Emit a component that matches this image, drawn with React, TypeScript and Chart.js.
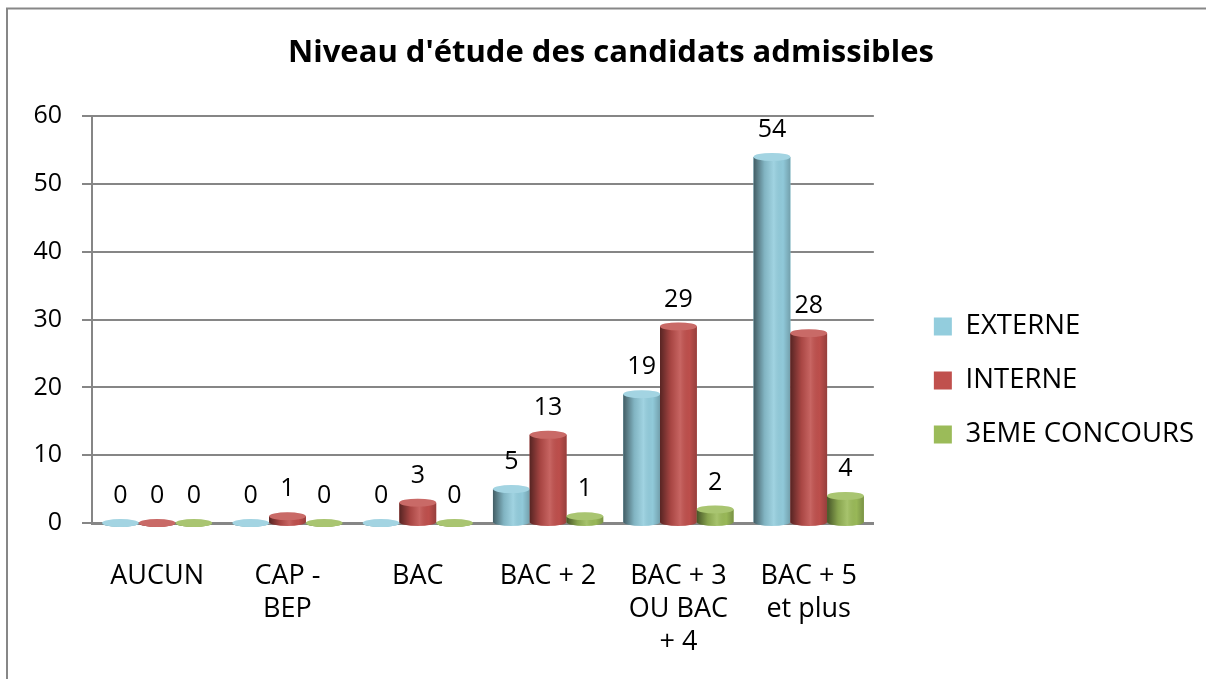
import { useEffect, useRef } from 'react';
import { Chart, registerables } from 'chart.js';

Chart.register(...registerables);

const TITLE = "Niveau d'étude des candidats admissibles";
const CATEGORIES: string[][] = [
  ['AUCUN'],
  ['CAP -', 'BEP'],
  ['BAC'],
  ['BAC + 2'],
  ['BAC + 3', 'OU BAC', '+ 4'],
  ['BAC + 5', 'et plus'],
];
const SERIES_NAMES = ['EXTERNE', 'INTERNE', '3EME CONCOURS'];
const EXTERNE = [0, 0, 0, 5, 19, 54];
const INTERNE = [0, 1, 3, 13, 29, 28];
const TROISIEME = [0, 0, 0, 1, 2, 4];
const Y_MIN = 0;
const Y_MAX = 60;
const Y_STEP = 10;

const COLORS = ['#93CDDD', '#C0504D', '#9BBB59'];
const FONT = "'Open Sans', sans-serif";
const GRID = '#868686';

const framePlugin = {
  id: 'frame',
  beforeDraw(chart: any) {
    const { ctx } = chart;
    ctx.save();
    ctx.fillStyle = '#ffffff';
    ctx.fillRect(0, 0, chart.width, chart.height);
    ctx.strokeStyle = '#878787';
    ctx.lineWidth = 2;
    ctx.strokeRect(7, 8.5, chart.width + 20, chart.height + 20);
    ctx.restore();
  },
};

const cylinderPlugin = {
  id: 'cylinders',
  afterDatasetsDraw(chart: any) {
    const { ctx } = chart;
    chart.data.datasets.forEach((ds: any, di: number) => {
      const meta = chart.getDatasetMeta(di);
      const color = ds.backgroundColor as string;
      meta.data.forEach((bar: any) => {
        const { x, y, base, width } = bar.getProps(['x', 'y', 'base', 'width'], true);
        const l = x - width / 2;
        const r = x + width / 2;
        const rx = width / 2;
        const ry = 4;
        ctx.save();
        const g = ctx.createLinearGradient(l, 0, r, 0);
        g.addColorStop(0, 'rgba(0,0,0,0.55)');
        g.addColorStop(0.3, 'rgba(0,0,0,0.12)');
        g.addColorStop(0.55, 'rgba(255,255,255,0.12)');
        g.addColorStop(0.8, 'rgba(0,0,0,0.02)');
        g.addColorStop(1, 'rgba(0,0,0,0.22)');
        ctx.beginPath();
        ctx.moveTo(l, y);
        ctx.lineTo(l, base);
        ctx.ellipse(x, base, rx, ry, 0, Math.PI, 0, true);
        ctx.lineTo(r, y);
        ctx.closePath();
        ctx.fillStyle = color;
        ctx.fill();
        ctx.fillStyle = g;
        ctx.fill();
        ctx.beginPath();
        ctx.ellipse(x, y, rx, ry, 0, 0, Math.PI * 2);
        ctx.fillStyle = color;
        ctx.fill();
        ctx.fillStyle = 'rgba(255,255,255,0.15)';
        ctx.fill();
        ctx.restore();
      });
    });
  },
};

const valueLabelPlugin = {
  id: 'valueLabels',
  afterDatasetsDraw(chart: any) {
    const { ctx } = chart;
    ctx.save();
    ctx.fillStyle = '#000';
    ctx.font = `25px ${FONT}`;
    ctx.textAlign = 'center';
    ctx.textBaseline = 'middle';
    chart.data.datasets.forEach((ds: any, di: number) => {
      const meta = chart.getDatasetMeta(di);
      meta.data.forEach((bar: any, i: number) => {
        const { x, y } = bar.getProps(['x', 'y'], true);
        ctx.fillText(String(ds.data[i]), x, y - 27);
      });
    });
    ctx.restore();
  },
};

export default function App() {
  const ref = useRef<HTMLCanvasElement>(null);

  useEffect(() => {
    if (!ref.current) return;
    const seriesData = [EXTERNE, INTERNE, TROISIEME];
    const chart = new Chart(ref.current, {
      type: 'bar',
      data: {
        labels: CATEGORIES,
        datasets: SERIES_NAMES.map((name, i) => ({
          label: name,
          data: seriesData[i],
          backgroundColor: COLORS[i],
          borderWidth: 0,
          categoryPercentage: 0.846,
          barPercentage: 1,
        })),
      },
      options: {
        responsive: false,
        animation: false,
        layout: { padding: { left: 18, right: 2, top: 0, bottom: 0 } },
        plugins: {
          title: {
            display: true,
            text: TITLE,
            color: '#000',
            font: { family: FONT, size: 31, weight: 'bold' },
            padding: { top: 35, bottom: 44 },
          },
          legend: {
            position: 'right',
            align: 'center',
            maxWidth: 400,
            title: { display: true, text: '', font: { size: 10 }, padding: { top: 0, bottom: 70 } },
            labels: {
              boxWidth: 18,
              boxHeight: 18,
              padding: 26.5,
              color: '#000',
              font: { family: FONT, size: 27.5 },
            },
          },
          tooltip: { enabled: false },
        },
        scales: {
          x: {
            grid: { display: false },
            border: { display: true, color: GRID, width: 3 },
            ticks: {
              color: '#000',
              font: { family: FONT, size: 27, lineHeight: 1.22 },
              padding: 29,
              maxRotation: 0,
              autoSkip: false,
            },
            afterFit(s: any) {
              s.height = 156;
            },
          },
          y: {
            min: Y_MIN,
            max: Y_MAX,
            ticks: { stepSize: Y_STEP, color: '#000', font: { family: FONT, size: 25 }, padding: 20 },
            grid: { color: GRID, lineWidth: 2, tickLength: 10, tickColor: GRID },
            border: { color: GRID, width: 2 },
            afterFit(s: any) {
              s.width = 74;
            },
          },
          gap: {
            type: 'linear',
            position: 'right',
            display: true,
            grid: { display: false },
            border: { display: false },
            ticks: { display: false },
            afterFit(s: any) {
              s.width = 33.5;
            },
          },
        },
      },
      plugins: [framePlugin, cylinderPlugin, valueLabelPlugin],
    });
    return () => chart.destroy();
  }, []);

  return (
    <div style={{ position: 'fixed', left: 0, top: 0, width: 1206, height: 679, background: '#fff' }}>
      <canvas ref={ref} width={1206} height={679} style={{ display: 'block' }} />
    </div>
  );
}
